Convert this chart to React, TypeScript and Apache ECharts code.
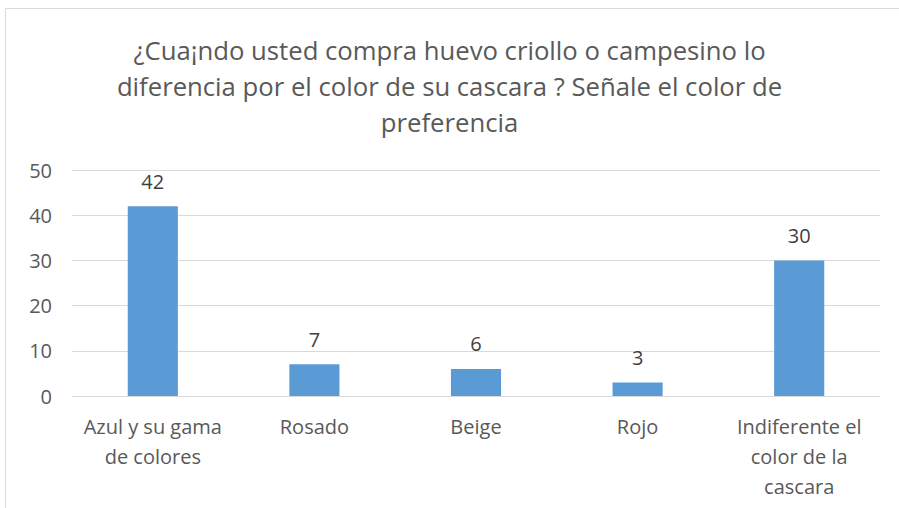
import React, { useEffect, useRef } from "react";
import * as echarts from "echarts";

const titleText =
  "¿Cua¡ndo usted compra huevo criollo o campesino lo\ndiferencia por el color de su cascara ? Señale el color de\npreferencia";
const categories = [
  "Azul y su gama de colores",
  "Rosado",
  "Beige",
  "Rojo",
  "Indiferente el color de la cascara",
];
const tickLabels = [
  "Azul y su gama\nde colores",
  "Rosado",
  "Beige",
  "Rojo",
  "Indiferente el\ncolor de la\ncascara",
];
const values = [42, 7, 6, 3, 30];

const FONT = "'Open Sans', sans-serif";

export default function App() {
  const ref = useRef<HTMLDivElement>(null);
  useEffect(() => {
    if (!ref.current) return;
    const chart = echarts.init(ref.current, undefined, { renderer: "svg" });
    chart.setOption({
      animation: false,
      backgroundColor: "#ffffff",
      textStyle: { fontFamily: FONT },
      graphic: [
        {
          type: "rect",
          shape: { x: 5.5, y: 8.5, width: 1000, height: 1000 },
          style: { fill: "none", stroke: "#d9d9d9", lineWidth: 1 },
          silent: true,
        },
      ],
      title: {
        text: titleText,
        left: "center",
        top: 27,
        textStyle: {
          fontFamily: FONT,
          fontSize: 25.7,
          lineHeight: 36,
          fontWeight: "normal",
          color: "#595959",
        },
      },
      grid: { left: 72, right: 19, top: 170, bottom: 112, containLabel: false },
      xAxis: {
        type: "category",
        data: categories,
        axisLine: { show: true, lineStyle: { color: "#d9d9d9", width: 1 } },
        axisTick: { show: false },
        axisLabel: {
          formatter: (_v: string, i: number) => tickLabels[i],
          fontFamily: FONT,
          fontSize: 20,
          lineHeight: 30,
          color: "#595959",
          margin: 15,
          interval: 0,
        },
      },
      yAxis: {
        type: "value",
        min: 0,
        max: 50,
        interval: 10,
        axisLine: { show: false },
        axisTick: { show: false },
        splitLine: { lineStyle: { color: "#d9d9d9", width: 1 } },
        axisLabel: {
          fontFamily: FONT,
          fontSize: 20,
          color: "#595959",
          margin: 20,
        },
      },
      series: [
        {
          type: "bar",
          data: values,
          barWidth: "31%",
          itemStyle: { color: "#5B9BD5" },
          label: {
            show: true,
            position: "top",
            distance: 15,
            fontFamily: FONT,
            fontSize: 20,
            color: "#404040",
          },
        },
      ],
    });
    return () => chart.dispose();
  }, []);
  return (
    <div
      ref={ref}
      style={{ position: "fixed", left: 0, top: 0, width: 899, height: 508 }}
    />
  );
}
